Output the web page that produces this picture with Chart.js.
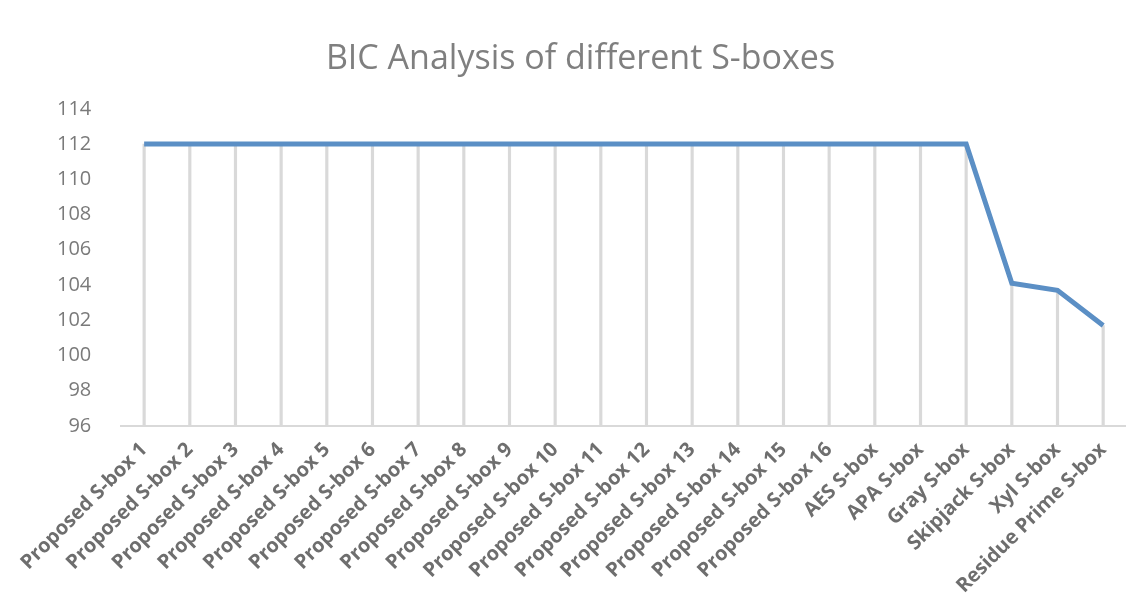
<!DOCTYPE html>
<html>
<head>
<meta charset="utf-8">
<script src="https://cdn.jsdelivr.net/npm/chart.js@4"></script>
<style>
  html, body { margin: 0; padding: 0; background: #fff; }
  #wrap { width: 1126px; height: 602px; }
</style>
</head>
<body>
<div id="wrap"><canvas id="bicChart"></canvas></div>
<script>
const sboxNames = [
  'Proposed S-box 1', 'Proposed S-box 2', 'Proposed S-box 3', 'Proposed S-box 4',
  'Proposed S-box 5', 'Proposed S-box 6', 'Proposed S-box 7', 'Proposed S-box 8',
  'Proposed S-box 9', 'Proposed S-box 10', 'Proposed S-box 11', 'Proposed S-box 12',
  'Proposed S-box 13', 'Proposed S-box 14', 'Proposed S-box 15', 'Proposed S-box 16',
  'AES S-box', 'APA S-box', 'Gray S-box', 'Skipjack S-box', 'Xyl S-box', 'Residue Prime S-box'
];
const bicValues = [
  112, 112, 112, 112, 112, 112, 112, 112, 112, 112, 112,
  112, 112, 112, 112, 112, 112, 112, 112, 104.1, 103.7, 101.7
];
const yMin = 96;
const yMax = 114;
const yStep = 2;

const ctx = document.getElementById('bicChart').getContext('2d');
new Chart(ctx, {
    type: 'line',
    data: {
        labels: sboxNames,
        datasets: [{
            label: 'BIC',
            data: bicValues,
            borderColor: '#5b8fc5',
            borderWidth: 5,
            pointRadius: 0,
            tension: 0,
            fill: false,
            order: 0
        }, {
            // drop lines from each point down to the axis
            type: 'bar',
            label: 'drop',
            data: bicValues,
            backgroundColor: '#d9d9d9',
            barThickness: 2.5,
            order: 1
        }]
    },
    options: {
        responsive: true,
        maintainAspectRatio: false,
        animation: false,
        layout: { padding: { left: 35, right: 0, top: 39, bottom: 0 } },
        plugins: {
            legend: { display: false },
            tooltip: { enabled: false },
            title: {
                display: true,
                text: 'BIC Analysis of different S-boxes',
                color: '#7f7f7f',
                font: { family: 'Open Sans', size: 34, weight: 'normal' },
                padding: { top: 0, bottom: 29 }
            }
        },
        scales: {
            x: {
                offset: true,
                grid: { display: false },
                border: { display: true, color: '#d9d9d9', width: 2 },
                ticks: {
                    minRotation: 45,
                    maxRotation: 45,
                    autoSkip: false,
                    padding: 4,
                    color: '#6e6e6e',
                    font: { family: 'Open Sans', size: 20, weight: 'bold' }
                }
            },
            y: {
                min: yMin,
                max: yMax,
                grid: { display: false },
                border: { display: false },
                ticks: {
                    stepSize: yStep,
                    padding: 22,
                    color: '#7a7a7a',
                    font: { family: 'Open Sans', size: 20 }
                }
            }
        }
    }
});
</script>
</body>
</html>
